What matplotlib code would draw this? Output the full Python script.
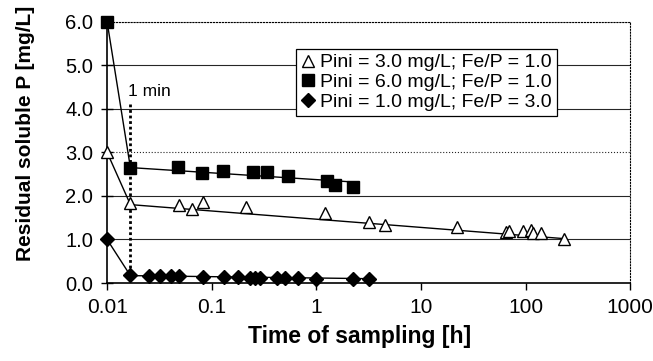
import matplotlib
matplotlib.use('Agg')
import matplotlib.pyplot as plt
from matplotlib.ticker import FixedLocator, FixedFormatter, FormatStrFormatter

plt.rcParams['font.family'] = ['Liberation Sans', 'DejaVu Sans']

# Pini = 3.0 mg/L; Fe/P = 1.0
tri_t = [0.01, 0.0167, 0.049, 0.065, 0.082, 0.213, 1.21, 3.16, 4.55,
         22, 65, 70, 94, 113, 119, 140, 231]
tri_p = [3.0, 1.83, 1.79, 1.69, 1.87, 1.74, 1.60, 1.41, 1.33,
         1.28, 1.17, 1.19, 1.19, 1.22, 1.15, 1.15, 1.0]
tri_fit_t = [0.01, 0.0167, 231]
tri_fit_p = [3.0, 1.80, 1.02]

# Pini = 6.0 mg/L; Fe/P = 1.0
sq_t = [0.01, 0.0167, 0.048, 0.080, 0.129, 0.247, 0.34, 0.54, 1.26, 1.51, 2.23]
sq_p = [6.0, 2.63, 2.66, 2.52, 2.58, 2.54, 2.54, 2.46, 2.35, 2.25, 2.20]
sq_fit_t = [0.01, 0.0167, 2.23]
sq_fit_p = [6.0, 2.65, 2.32]

# Pini = 1.0 mg/L; Fe/P = 3.0
dia_t = [0.01, 0.0167, 0.0249, 0.032, 0.041, 0.049, 0.082, 0.13, 0.18,
         0.234, 0.26, 0.29, 0.42, 0.5, 0.67, 1.0, 2.26, 3.16]
dia_p = [1.0, 0.18, 0.16, 0.15, 0.15, 0.16, 0.14, 0.14, 0.13,
         0.12, 0.12, 0.12, 0.12, 0.11, 0.11, 0.10, 0.10, 0.10]
dia_fit_t = [0.01, 0.0167, 3.16]
dia_fit_p = [1.0, 0.17, 0.10]

one_min = 1 / 60
xticks = [0.01, 0.1, 1, 10, 100, 1000]
xtick_labels = ['0.01', '0.1', '1', '10', '100', '1000']

fig = plt.figure(figsize=(6.53, 3.61), dpi=100)
ax = fig.add_axes([0.164, 0.216, 0.801, 0.724])

ax.set_xscale('log')
ax.set_xlim(0.01, 1000)
ax.set_ylim(0, 6)

for y in range(1, 7):
    ax.axhline(y, color='0.15', lw=0.8, ls=':' if y in (3, 6) else '-', zorder=1)

ax.plot(tri_fit_t, tri_fit_p, color='black', lw=1, zorder=2)
ax.plot(sq_fit_t, sq_fit_p, color='black', lw=1, zorder=2)
ax.plot(dia_fit_t, dia_fit_p, color='black', lw=1, zorder=2)

ax.plot([one_min, one_min], [4.1, 0.2], color='black', lw=2, ls=(0, (1, 1)), zorder=2)
ax.text(0.0158, 4.39, '1 min', fontsize=12.5, va='center', ha='left')

ax.plot(tri_t, tri_p, ls='none', marker='^', ms=8.5, mfc='white', mec='black',
        mew=1, zorder=4, clip_on=False, label='Pini = 3.0 mg/L; Fe/P = 1.0')
ax.plot(sq_t, sq_p, ls='none', marker='s', ms=8, mfc='black', mec='black',
        zorder=4, clip_on=False, label='Pini = 6.0 mg/L; Fe/P = 1.0')
ax.plot(dia_t, dia_p, ls='none', marker='D', ms=7, mfc='black', mec='black',
        zorder=4, clip_on=False, label='Pini = 1.0 mg/L; Fe/P = 3.0')

leg = ax.legend(loc='upper left', bbox_to_anchor=(0.361, 0.896), fontsize=14,
                frameon=True, fancybox=False, framealpha=1, edgecolor='black',
                handlelength=0.7, handletextpad=0.3, borderpad=0.25,
                labelspacing=0.12, borderaxespad=0)
leg.get_frame().set_linewidth(0.9)

ax.xaxis.set_major_locator(FixedLocator(xticks))
ax.xaxis.set_major_formatter(FixedFormatter(xtick_labels))
ax.xaxis.set_minor_locator(FixedLocator([]))
ax.yaxis.set_major_formatter(FormatStrFormatter('%.1f'))
ax.tick_params(axis='x', direction='out', length=5, width=1, labelsize=15, pad=6)
ax.tick_params(axis='y', direction='inout', length=8, width=1, labelsize=14.5, pad=6)

ax.spines['left'].set_linewidth(1.2)
ax.spines['bottom'].set_linewidth(1.2)
ax.spines['top'].set_linestyle(':')
ax.spines['top'].set_linewidth(0.8)
ax.spines['right'].set_linestyle(':')
ax.spines['right'].set_linewidth(0.8)

ax.set_xlabel('Time of sampling [h]', fontsize=16.5, fontweight='bold')
ax.set_ylabel('Residual soluble P [mg/L]', fontsize=15, fontweight='bold')
ax.xaxis.set_label_coords(0.482, -0.16)
ax.yaxis.set_label_coords(-0.138, 0.572)

fig.savefig('out.png', dpi=100)
